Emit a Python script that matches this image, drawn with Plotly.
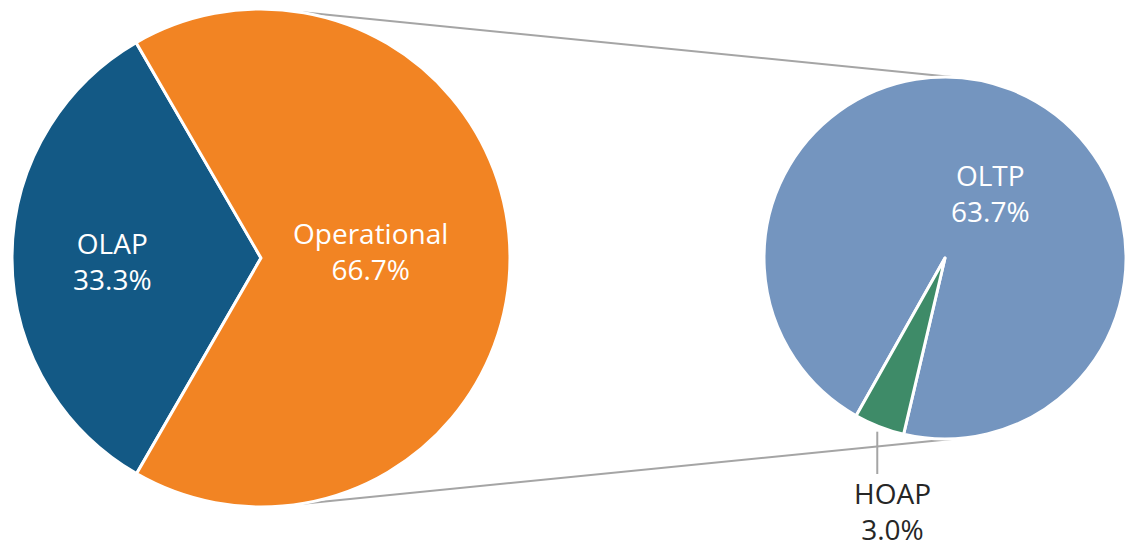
import math
import plotly.graph_objects as go

# ---- data ----
main_labels = ["OLAP", "Operational"]
main_values = [33.3, 66.7]
sub_labels = ["OLTP", "HOAP"]
sub_values = [63.7, 3.0]

main_colors = ["#135985", "#F28423"]
sub_colors = ["#7495BF", "#3E8B68"]

W, H = 1126, 549

# pie geometry in pixels (domain boxes)
L_box = (12, 9, 510, 507)      # x0, y0(top), x1, y1(bottom)
R_box = (764, 76, 1126, 440)

def dom(box):
    x0, y0, x1, y1 = box
    return dict(x=[x0 / W, x1 / W], y=[1 - y1 / H, 1 - y0 / H])

def geom(box):
    x0, y0, x1, y1 = box
    r = min(x1 - x0, y1 - y0) / 2
    return (x0 + x1) / 2, (y0 + y1) / 2, r

def pt(g, ang_deg, f=1.0):
    cx, cy, r = g
    a = math.radians(ang_deg)
    return cx + f * r * math.sin(a), cy - f * r * math.cos(a)

def px2paper(x, y):
    return x / W, 1 - y / H

fig = go.Figure()
fig.add_trace(go.Pie(
    labels=main_labels, values=main_values, sort=False,
    direction="clockwise", rotation=210,
    marker=dict(colors=main_colors, line=dict(color="white", width=3)),
    textinfo="none", hoverinfo="label+value", domain=dom(L_box), showlegend=False,
))
fig.add_trace(go.Pie(
    labels=sub_labels, values=sub_values, sort=False,
    direction="clockwise", rotation=209.4,
    marker=dict(colors=sub_colors, line=dict(color="white", width=3)),
    textinfo="none", hoverinfo="label+value", domain=dom(R_box), showlegend=False,
))

gL, gR = geom(L_box), geom(R_box)

# connector lines
shapes = []
for aL, aR in [(9, 3), (171, 177)]:
    x0, y0 = px2paper(*pt(gL, aL))
    x1, y1 = px2paper(*pt(gR, aR))
    shapes.append(dict(type="line", xref="paper", yref="paper", x0=x0, y0=y0, x1=x1, y1=y1,
                       line=dict(color="#A5A5A5", width=2), layer="below"))

# HOAP leader line
hoap_mid = 209.4 - 360 * sub_values[1] / sum(sub_values) / 2
lx0, ly0 = pt(gR, hoap_mid, 1.03)
lx1, ly1 = lx0, 474
a0 = px2paper(lx0, ly0); a1 = px2paper(lx1, ly1)
shapes.append(dict(type="line", xref="paper", yref="paper", x0=a0[0], y0=a0[1], x1=a1[0], y1=a1[1],
                   line=dict(color="#A5A5A5", width=2)))

font = "Open Sans"
annots = []
# label anchor positions (pixels) for each slice label
label_pos = {
    "OLAP": (112, 261, "white"),
    "Operational": (370, 251, "white"),
    "OLTP": (990, 193, "white"),
    "HOAP": (892, 511, "#262626"),
}
for lab, val in list(zip(main_labels, main_values)) + list(zip(sub_labels, sub_values)):
    x, y, c = label_pos[lab]
    px, py = px2paper(x, y)
    annots.append(dict(xref="paper", yref="paper", x=px, y=py, showarrow=False,
                       xanchor="center", yanchor="middle", borderpad=0,
                       text=f"{lab}<br>{val:.1f}%", align="center",
                       font=dict(family=font, size=28, color=c)))

fig.update_layout(
    width=W, height=H, margin=dict(l=0, r=0, t=0, b=0),
    paper_bgcolor="white", plot_bgcolor="white",
    shapes=shapes, annotations=annots,
)
fig.write_html("out.html")
